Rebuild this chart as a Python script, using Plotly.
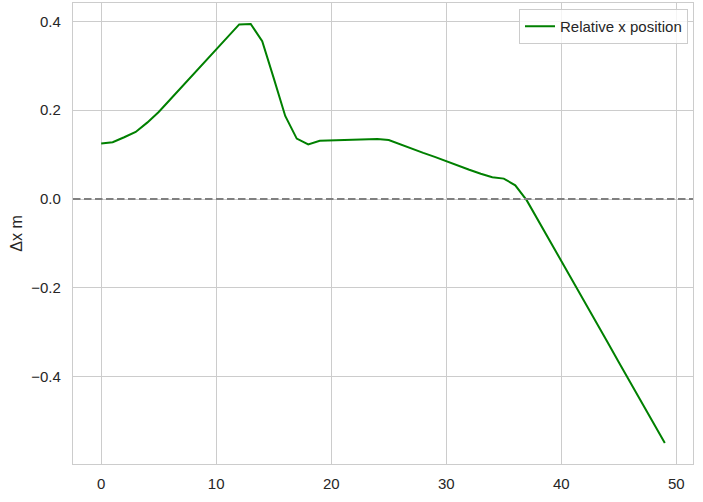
import plotly.graph_objects as go

# frame index and relative x position (m)
frames = list(range(50))
rel_x = [
    0.125, 0.128, 0.139, 0.151, 0.172, 0.196, 0.224, 0.252, 0.280, 0.308,
    0.337, 0.365, 0.393, 0.394, 0.355, 0.272, 0.187, 0.136, 0.123, 0.131,
    0.132, 0.133, 0.134, 0.134, 0.135, 0.133, 0.123, 0.114, 0.104, 0.095,
    0.085, 0.076, 0.066, 0.057, 0.049, 0.046, 0.031, -0.003, -0.048, -0.094,
    -0.139, -0.185, -0.230, -0.276, -0.321, -0.367, -0.412, -0.458, -0.503, -0.549,
]
ref_level = 0.0
x_ticks = [0, 10, 20, 30, 40, 50]
y_ticks = [-0.4, -0.2, 0.0, 0.2, 0.4]

font = "Liberation Sans, Arial, sans-serif"
grid = "#cccccc"
text_col = "#262626"


def padded(vals, frac=0.05):
    lo, hi = min(vals), max(vals)
    pad = (hi - lo) * frac
    return [lo - pad, hi + pad]


fig = go.Figure()

fig.add_trace(
    go.Scatter(
        x=frames,
        y=rel_x,
        mode="lines",
        name="Relative x position",
        line=dict(color="green", width=2),
    )
)

fig.add_hline(y=ref_level, line=dict(color="gray", width=2, dash="7.5px,3.5px"))

fig.update_layout(
    width=703,
    height=502,
    margin=dict(l=73, r=10, t=3, b=38),
    paper_bgcolor="white",
    plot_bgcolor="white",
    font=dict(family=font, size=15, color=text_col),
    showlegend=True,
    legend=dict(
        x=1 - 5 / 620,
        y=1 - 6 / 461,
        xanchor="right",
        yanchor="top",
        bgcolor="rgba(255,255,255,0.8)",
        bordercolor=grid,
        borderwidth=1,
        itemwidth=30,
        font=dict(size=15, color=text_col),
    ),
)

fig.update_xaxes(
    range=padded(frames),
    tickvals=x_ticks,
    showgrid=True,
    gridcolor=grid,
    gridwidth=1,
    zeroline=False,
    showline=True,
    mirror=True,
    linecolor=grid,
    linewidth=1.25,
    ticks="",
    ticklabelstandoff=6,
    automargin=False,
)

fig.update_yaxes(
    range=padded(rel_x),
    tickvals=y_ticks,
    tickformat=".1f",
    showgrid=True,
    gridcolor=grid,
    gridwidth=1,
    zeroline=False,
    showline=True,
    mirror=True,
    linecolor=grid,
    linewidth=1.25,
    ticks="",
    ticklabelstandoff=8,
    automargin=False,
    title=dict(text="Δx m", font=dict(size=16, color=text_col), standoff=4),
)

# the page body has a default 8px margin; drop it so the figure sits at 0,0
fig.write_html(
    "out.html",
    config={"displayModeBar": False},
    post_script="document.body.style.margin = '0';",
)
